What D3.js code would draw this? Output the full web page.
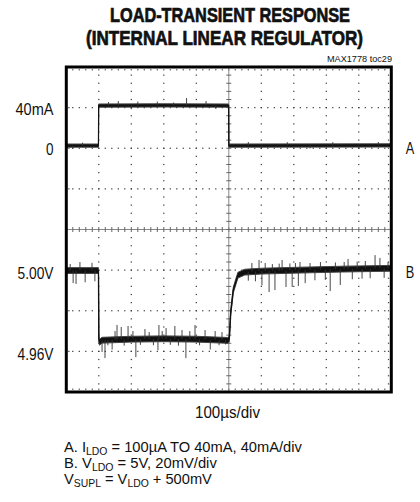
<!DOCTYPE html>
<html><head><meta charset="utf-8">
<script src="https://cdn.jsdelivr.net/npm/d3@7/dist/d3.min.js"></script>
<style>
html,body{margin:0;padding:0;background:#fff;}
svg{display:block;}
text{font-family:"Liberation Sans",Arial,sans-serif;fill:#111;}
</style></head>
<body>
<svg id="c" width="420" height="502"></svg>
<script>
// ---------- data ----------
const titleLines = ["LOAD-TRANSIENT RESPONSE", "(INTERNAL LINEAR REGULATOR)"];
const docId = "MAX1778 toc29";
const timeDomainUs = [0, 1000];           // 10 div x 100us
const chanADomain = [-240, 80];           // mA, 40mA/div
const chanBDomain = [4.94, 5.10];         // V, 20mV/div
const xMajorTicks = [0,100,200,300,400,500,600,700,800,900,1000];
const bMajorTicks = [4.94,4.96,4.98,5.00,5.02,5.04,5.06,5.08,5.10];
const labelsA = [{text:"40mA", v:40}, {text:"0", v:0}];
const labelsB = [{text:"5.00V", v:5.00}, {text:"4.96V", v:4.96}];
const xAxisLabel = "100\u00B5s/div";

// Channel A: load current (us, mA) - band centre
const traceA_t = [0, 99, 99.5, 300, 499.5, 500, 1000];
const traceA_v = [2.6, 2.6, 42.0, 42.2, 42.0, 2.6, 2.8];
const spikesA_t = [20, 50, 130, 160, 200, 220, 280, 330, 370, 430, 460, 560, 600, 680, 750, 820, 900, 960];
const spikesA_v = [-0.5, 5.5, 45.5, 46.5, 38.5, 46.0, 46.0, 45.0, 49.5, 46.5, 38.8, 6.2, -0.2, 6.0, -0.2, 6.0, -0.2, 6.2];

// Channel B: LDO output (us, V) - band centre
const traceB_t = [0, 99, 100, 102, 110, 200, 300, 400, 497, 501.5, 505.8, 513.8, 528, 549, 600, 718, 850, 1000];
const traceB_v = [4.9998, 4.9998, 4.9665, 4.9645, 4.9655, 4.9660, 4.9662, 4.9660, 4.9654, 4.9660, 4.9789, 4.9902, 4.9975, 4.9990, 4.9995, 5.0000, 5.0005, 5.0009];
const spikesB_t = [12, 21, 30, 42, 58, 79, 88,
  110, 119, 128, 141, 150, 156, 169, 178, 190, 205, 214, 228, 242, 255, 268, 282, 285, 295, 307, 320, 334, 345, 356, 368, 380, 396, 410, 427, 443, 458, 470, 479, 490,
  560, 571, 582, 593, 602, 612, 624, 634, 642, 655, 664, 676, 688, 695, 705, 714, 719, 735, 750, 765, 782, 797, 812, 828, 843, 855, 867, 880, 895, 910, 920, 935, 950, 965, 978, 990];
const spikesB_v = [5.0030, 4.9936, 4.9932, 5.0040, 4.9940, 5.0036, 4.9945,
  4.9597, 4.9567, 4.9630, 4.9609, 4.9700, 4.9730, 4.9720, 4.9628, 4.9725, 4.9700, 4.9572, 4.9632, 4.9710, 4.9695, 4.9630, 4.9606, 4.9730, 4.9700, 4.9715, 4.9632, 4.9725, 4.9628, 4.9705, 4.9567, 4.9700, 4.9730, 4.9630, 4.9705, 4.9609, 4.9700, 4.9630, 4.9695, 4.9634,
  4.9948, 5.0035, 4.9945, 5.0050, 4.9925, 5.0035, 4.9892, 5.0030, 4.9902, 5.0032, 5.0050, 4.9917, 5.0033, 4.9917, 5.0035, 4.9922, 5.0040, 4.9936, 5.0035, 4.9950, 5.0040, 4.9952, 4.9897, 5.0038, 4.9927, 5.0040, 5.0055, 4.9955, 5.0042, 4.9958, 5.0045, 4.9960, 5.0074, 5.0060, 4.9962, 5.0040];

const footnotes = [
  [["A. I",0],["LDO",1],[" = 100\u00B5A TO 40mA, 40mA/div",0]],
  [["B. V",0],["LDO",1],[" = 5V, 20mV/div",0]],
  [["V",0],["SUPL",1],[" = V",0],["LDO",1],[" + 500mV",0]]
];
const footnoteWidths = [238, 153, 148];

// ---------- layout ----------
const L = 66.3, T = 67, W = 325, H = 325;
const svg = d3.select("#c");
const x = d3.scaleLinear().domain(timeDomainUs).range([L, L+W]);
const yA = d3.scaleLinear().domain(chanADomain).range([T+H, T]);
const yB = d3.scaleLinear().domain(chanBDomain).range([T+H, T]);

// titles
svg.append("text").attr("x",230).attr("y",22).attr("text-anchor","middle")
  .attr("font-size",20).attr("font-weight","bold").attr("stroke","#111").attr("stroke-width",0.7)
  .attr("textLength",240).attr("lengthAdjust","spacingAndGlyphs").text(titleLines[0]);
svg.append("text").attr("x",224.5).attr("y",45).attr("text-anchor","middle")
  .attr("font-size",20).attr("font-weight","bold").attr("stroke","#111").attr("stroke-width",0.7)
  .attr("textLength",277).attr("lengthAdjust","spacingAndGlyphs").text(titleLines[1]);
svg.append("text").attr("x",392).attr("y",61.5).attr("text-anchor","end")
  .attr("font-size",9.5).attr("textLength",65).attr("lengthAdjust","spacingAndGlyphs").text(docId);

// grid
const g = svg.append("g");
const xStep = (timeDomainUs[1]-timeDomainUs[0])/50;
const bStep = (chanBDomain[1]-chanBDomain[0])/40;
const xMinor = d3.range(0,51).map(i => timeDomainUs[0] + i*xStep);
const yMinor = d3.range(0,41).map(i => chanBDomain[0] + i*bStep);
const centerX = xMajorTicks[5], centerY = bMajorTicks[4];

bMajorTicks.slice(1,-1).forEach(v => {
  if (v === centerY) return;
  g.selectAll(null).data(xMinor.slice(1,-1)).enter().append("rect")
    .attr("x", d => x(d)-0.6).attr("y", yB(v)-0.6).attr("width",1.2).attr("height",1.2).attr("fill","#333");
  g.append("rect").attr("x", L+2).attr("y", yB(v)-0.6).attr("width",1.2).attr("height",1.2).attr("fill","#333");
});
xMajorTicks.slice(1,-1).forEach(t => {
  if (t === centerX) return;
  g.selectAll(null).data(yMinor.slice(1,-1)).enter().append("rect")
    .attr("x", x(t)-0.6).attr("y", d => yB(d)-0.6).attr("width",1.2).attr("height",1.2).attr("fill","#333");
});
g.selectAll(null).data(xMinor.slice(1,-1)).enter().append("rect")
  .attr("x", d => x(d)-0.6).attr("y", T+2.2).attr("width",1.2).attr("height",1.2).attr("fill","#444");
g.selectAll(null).data(xMinor.slice(1,-1)).enter().append("rect")
  .attr("x", d => x(d)-0.6).attr("y", T+H-3.4).attr("width",1.2).attr("height",1.2).attr("fill","#444");
g.selectAll(null).data(yMinor.slice(1,-1)).enter().append("rect")
  .attr("x", L+W-3.4).attr("y", d => yB(d)-0.6).attr("width",1.2).attr("height",1.2).attr("fill","#444");

g.append("line").attr("x1",L).attr("x2",L+W).attr("y1",yB(centerY)).attr("y2",yB(centerY))
  .attr("stroke","#888").attr("stroke-width",1);
g.selectAll(null).data(xMinor.slice(1,-1)).enter().append("line")
  .attr("x1", d => x(d)).attr("x2", d => x(d)).attr("y1", yB(centerY)-2.5).attr("y2", yB(centerY)+2.5)
  .attr("stroke","#666").attr("stroke-width",1);
g.append("line").attr("y1",T).attr("y2",T+H).attr("x1",x(centerX)).attr("x2",x(centerX))
  .attr("stroke","#888").attr("stroke-width",1);
g.selectAll(null).data(yMinor.slice(1,-1)).enter().append("line")
  .attr("y1", d => yB(d)).attr("y2", d => yB(d)).attr("x1", x(centerX)-2.5).attr("x2", x(centerX)+2.5)
  .attr("stroke","#666").attr("stroke-width",1);

// traces
function drawTrace(ts, vs, ys, halfPx, sts, svs, coreW) {
  const pts = ts.map((t,i)=>[t, vs[i]]);
  const area = d3.area().x(d=>x(d[0])).y0(d=>ys(d[1])+halfPx).y1(d=>ys(d[1])-halfPx);
  svg.append("path").datum(pts).attr("d", area).attr("fill","#111")
     .attr("stroke","#444").attr("stroke-width",1).attr("stroke-linejoin","round");
  const line = d3.line().x(d=>x(d[0])).y(d=>ys(d[1]));
  svg.append("path").datum(pts).attr("d", line).attr("fill","none").attr("stroke","#111").attr("stroke-width",coreW);
  const interp = t => {
    for (let i=1;i<ts.length;i++){ if (t<=ts[i]) { const f=(t-ts[i-1])/(ts[i]-ts[i-1]); return vs[i-1]+f*(vs[i]-vs[i-1]); } }
    return vs[vs.length-1];
  };
  svg.selectAll(null).data(sts.map((t,i)=>[t, svs[i]])).enter().append("line")
    .attr("x1", d=>x(d[0])).attr("x2", d=>x(d[0]))
    .attr("y1", d=>ys(interp(d[0]))).attr("y2", d=>ys(d[1]))
    .attr("stroke","#333").attr("stroke-width",0.9);
}
drawTrace(traceA_t, traceA_v, yA, 1.6, spikesA_t, spikesA_v, 1.2);
drawTrace(traceB_t, traceB_v, yB, 2.9, spikesB_t, spikesB_v, 1.3);

// frame
svg.append("rect").attr("x",L).attr("y",T).attr("width",W).attr("height",H)
  .attr("fill","none").attr("stroke","#000").attr("stroke-width",3);

// labels
const lw = {"40mA":38, "0":7.5, "5.00V":36, "4.96V":36};
svg.selectAll(null).data(labelsA).enter().append("text")
  .attr("x",53.5).attr("y",d=>yA(d.v)+7).attr("text-anchor","end").attr("font-size",16.5)
  .attr("textLength",d=>lw[d.text]).attr("lengthAdjust","spacingAndGlyphs").text(d=>d.text);
svg.selectAll(null).data(labelsB).enter().append("text")
  .attr("x",53.5).attr("y",d=>yB(d.v)+9).attr("text-anchor","end").attr("font-size",16.5)
  .attr("textLength",d=>lw[d.text]).attr("lengthAdjust","spacingAndGlyphs").text(d=>d.text);
svg.append("text").attr("x",410).attr("y",154).attr("text-anchor","middle").attr("font-size",16.5)
  .attr("textLength",8.5).attr("lengthAdjust","spacingAndGlyphs").text("A");
svg.append("text").attr("x",410).attr("y",277.5).attr("text-anchor","middle").attr("font-size",16.5)
  .attr("textLength",8.5).attr("lengthAdjust","spacingAndGlyphs").text("B");
svg.append("text").attr("x",227.5).attr("y",418).attr("text-anchor","middle").attr("font-size",16)
  .attr("textLength",65).attr("lengthAdjust","spacingAndGlyphs").text(xAxisLabel);

// footnotes (condensed to the reference widths)
footnotes.forEach((parts,i) => {
  const grp = svg.append("g").attr("transform",`translate(64,${452+i*16})`);
  const t = grp.append("text").attr("x",0).attr("y",0).attr("font-size",15.5);
  let prevSub = 0;
  parts.forEach(([s,sub]) => {
    const sp = t.append("tspan").text(s).attr("font-size", sub?11:15.5);
    const dy = (sub?2.5:0) - (prevSub?2.5:0);
    if (dy) sp.attr("dy", dy);
    prevSub = sub;
  });
  const w = t.node().getComputedTextLength();
  const s = footnoteWidths[i] / w;
  grp.attr("transform",`translate(64,${452+i*16}) scale(${s},1)`);
});
</script>
</body></html>
